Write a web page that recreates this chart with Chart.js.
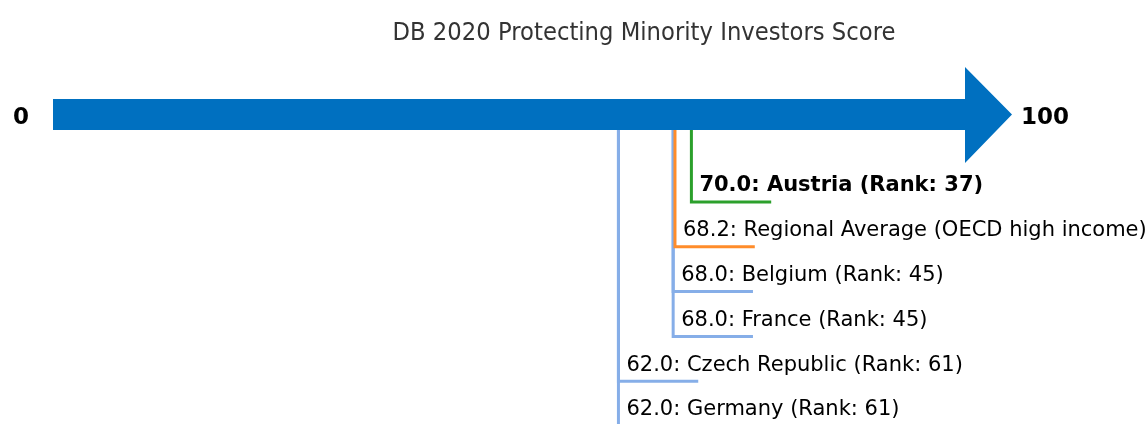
<!DOCTYPE html>
<html>
<head>
<meta charset="utf-8">
<script src="https://cdn.jsdelivr.net/npm/chart.js@4/dist/chart.umd.min.js"></script>
<style>
  html, body { margin: 0; padding: 0; background: #fff; }
  #wrap { width: 1146px; height: 424px; }
</style>
</head>
<body>
<div id="wrap"><canvas id="chart" width="1146" height="424"></canvas></div>
<script>
const economies = ['Austria', 'Regional Average (OECD high income)', 'Belgium', 'France', 'Czech Republic', 'Germany'];
const scores = [70.0, 68.2, 68.0, 68.0, 62.0, 62.0];
const ranks = [37, null, 45, 45, 61, 61];
const markerColors = ['#2ca02c', '#ff8c2a', '#86aee8', '#86aee8', '#86aee8', '#86aee8'];
const scaleEnds = [0, 100];
const title = 'DB 2020 Protecting Minority Investors Score';

const FONT = "'DejaVu Sans', sans-serif";
const ARROW_TOP = 99, ARROW_BOTTOM = 130;
const ROW0 = 202, ROW_GAP = 44.8;
const SEG = 8.75; // horizontal tick length, score units

const datasets = scores.map((v, i) => {
  const y = ROW0 + i * ROW_GAP;
  return {
    label: economies[i],
    data: [{ x: v, y: ARROW_BOTTOM }, { x: v, y: y }, { x: v + SEG, y: y }],
    borderColor: markerColors[i],
    borderWidth: 3,
    pointRadius: 0,
    fill: false,
    tension: 0,
  };
});

const arrowPlugin = {
  id: 'arrow',
  beforeDatasetsDraw(chart) {
    const { ctx, scales: { x } } = chart;
    const x0 = x.getPixelForValue(scaleEnds[0]);
    const x1 = x.getPixelForValue(scaleEnds[1]);
    const mid = (ARROW_TOP + ARROW_BOTTOM) / 2;
    ctx.save();
    ctx.fillStyle = '#0070c0';
    ctx.beginPath();
    ctx.moveTo(x0, ARROW_TOP);
    ctx.lineTo(x1, ARROW_TOP);
    ctx.lineTo(x1, 67);
    ctx.lineTo(x1 + 47, mid);
    ctx.lineTo(x1, 163);
    ctx.lineTo(x1, ARROW_BOTTOM);
    ctx.lineTo(x0, ARROW_BOTTOM);
    ctx.closePath();
    ctx.fill();
    ctx.restore();
  },
  afterDatasetsDraw(chart) {
    const { ctx, scales: { x } } = chart;
    ctx.save();
    ctx.textBaseline = 'middle';
    ctx.fillStyle = '#000';
    ctx.font = 'bold 23px ' + FONT;
    ctx.textAlign = 'left';
    ctx.fillText(String(scaleEnds[0]), 13, 118);
    ctx.fillText(String(scaleEnds[1]), x.getPixelForValue(scaleEnds[1]) + 56, 118);

    // title: slightly condensed like the original
    ctx.fillStyle = '#333';
    ctx.font = '25px ' + FONT;
    ctx.textAlign = 'center';
    const w = ctx.measureText(title).width;
    ctx.save();
    ctx.translate(644, 33);
    ctx.scale(503 / w, 1);
    ctx.fillText(title, 0, 0);
    ctx.restore();

    scores.forEach((v, i) => {
      const y = ROW0 + i * ROW_GAP - 16;
      const txt = v.toFixed(1) + ': ' + economies[i] + (ranks[i] ? ' (Rank: ' + ranks[i] + ')' : '');
      ctx.font = (i === 0 ? 'bold ' : '') + '21px ' + FONT;
      ctx.fillStyle = '#000';
      ctx.textAlign = 'left';
      ctx.fillText(txt, x.getPixelForValue(v) + 8, y);
    });
    ctx.restore();
  }
};

new Chart(document.getElementById('chart'), {
  type: 'line',
  data: { datasets },
  options: {
    responsive: false,
    animation: false,
    layout: { padding: { left: 53, right: 181, top: 0, bottom: 0 } },
    scales: {
      x: { type: 'linear', min: 0, max: 100, display: false },
      y: { type: 'linear', min: 0, max: 424, reverse: true, display: false },
    },
    plugins: { legend: { display: false }, tooltip: { enabled: false }, title: { display: false } },
  },
  plugins: [arrowPlugin],
});
</script>
</body>
</html>
